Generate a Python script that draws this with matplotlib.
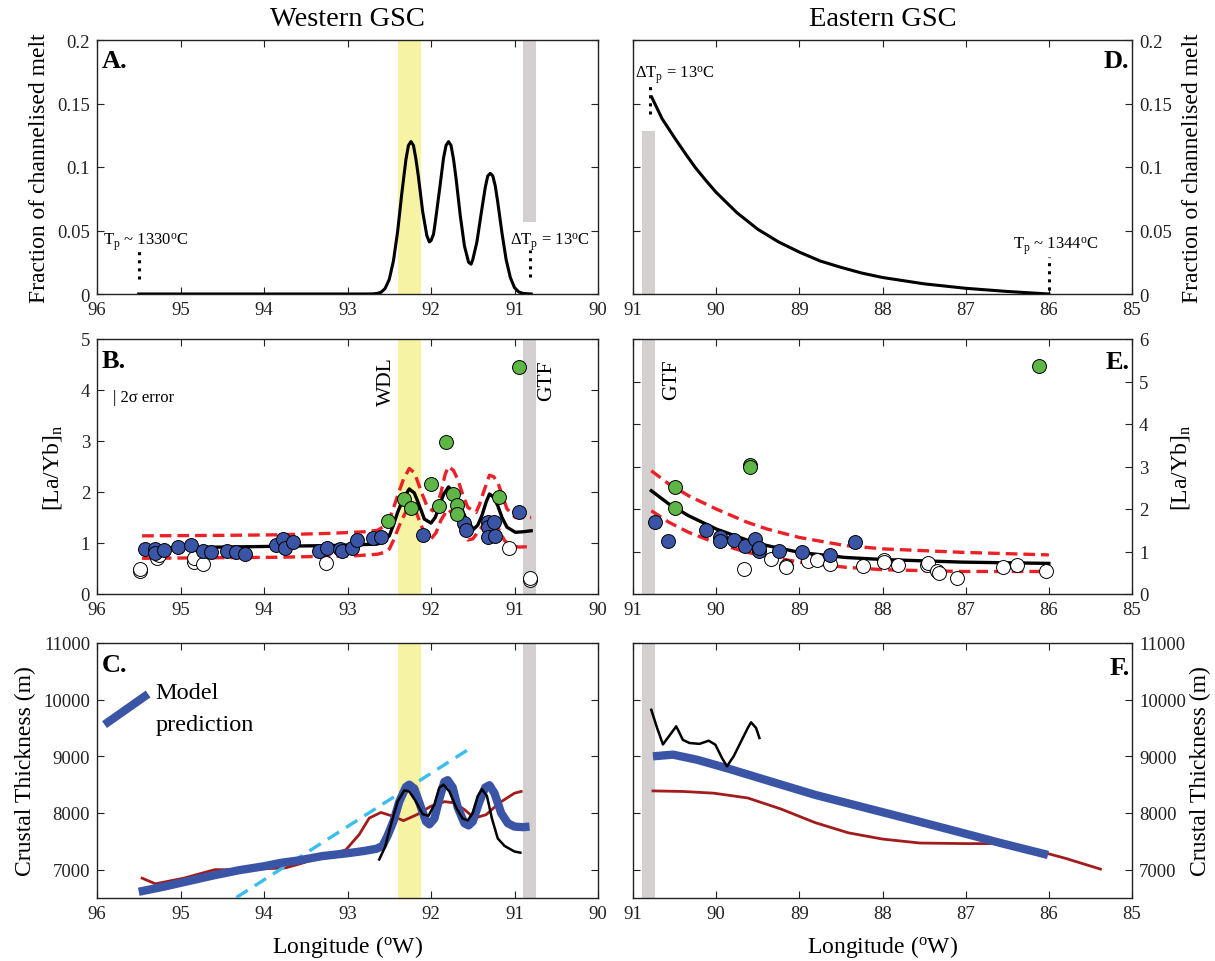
import matplotlib
matplotlib.use("Agg")
import matplotlib.pyplot as plt

plt.rcParams['font.family'] = 'Liberation Serif'
plt.rcParams['mathtext.fontset'] = 'custom'
plt.rcParams['mathtext.rm'] = 'Liberation Serif'
plt.rcParams['mathtext.it'] = 'Liberation Serif:italic'
plt.rcParams['mathtext.bf'] = 'Liberation Serif:bold'

# ---- data ----
wdl_band = (92.40, 92.12)
gtf_west = (90.90, 90.74)
gtf_east = (90.89, 90.73)

# A: fraction of channelised melt, western GSC
a_lon = [95.5, 93.0, 92.8, 92.7, 92.65, 92.6, 92.55, 92.5, 92.45, 92.4, 92.35, 92.3, 92.27,
         92.24, 92.21, 92.18, 92.15, 92.1, 92.05, 92.02, 92.0, 91.97, 91.95, 91.9, 91.85,
         91.82, 91.79, 91.76, 91.73, 91.7, 91.65, 91.6, 91.55, 91.52, 91.5, 91.45, 91.4,
         91.35, 91.32, 91.29, 91.26, 91.23, 91.2, 91.15, 91.1, 91.05, 91.0, 90.95, 90.9, 90.8]
a_frac = [0, 0, 0, 0.0001, 0.0004, 0.0013, 0.0043, 0.0115, 0.026, 0.049, 0.079, 0.106, 0.117,
          0.12, 0.117, 0.106, 0.092, 0.065, 0.046, 0.041, 0.042, 0.047, 0.056, 0.081, 0.107,
          0.117, 0.12, 0.117, 0.106, 0.091, 0.062, 0.038, 0.025, 0.0235, 0.027, 0.041, 0.063,
          0.084, 0.093, 0.095, 0.093, 0.085, 0.072, 0.048, 0.027, 0.013, 0.005, 0.0017,
          0.0005, 0]

# D: fraction of channelised melt, eastern GSC
d_lon = [90.775, 90.65, 90.5, 90.375, 90.25, 90.125, 90.0, 89.75, 89.5, 89.25, 89.0, 88.75,
         88.5, 88.25, 88.0, 87.5, 87.0, 86.5, 86.0]
d_frac = [0.155, 0.138, 0.123, 0.111, 0.0995, 0.0895, 0.080, 0.064, 0.051, 0.041, 0.033,
          0.026, 0.021, 0.0165, 0.013, 0.0080, 0.0045, 0.002, 0.0]

# B: [La/Yb]n, western GSC
b_fit_lon = [95.46, 94.5, 93.86, 93.2, 92.8, 92.64, 92.56, 92.5, 92.45, 92.4, 92.33, 92.26,
             92.2, 92.17, 92.12, 92.08, 92.0, 91.95, 91.91, 91.85, 91.79, 91.7, 91.64, 91.58,
             91.49, 91.44, 91.39, 91.34, 91.3, 91.25, 91.2, 91.15, 91.09, 90.99, 90.9, 90.8]
b_fit = [0.90, 0.92, 0.935, 0.95, 0.97, 0.98, 1.04, 1.14, 1.35, 1.60, 1.88, 2.06,
         1.98, 1.86, 1.65, 1.47, 1.39, 1.50, 1.67, 1.95, 2.10, 1.93, 1.70, 1.47,
         1.27, 1.35, 1.54, 1.80, 1.96, 1.90, 1.73, 1.50, 1.31, 1.21, 1.22, 1.24]
b_up_lon = [95.46, 94.5, 93.86, 93.2, 92.8, 92.64, 92.56, 92.5, 92.45, 92.4, 92.33, 92.26,
            92.2, 92.17, 92.11, 92.05, 91.98, 91.93, 91.88, 91.83, 91.79, 91.73, 91.68,
            91.62, 91.56, 91.46, 91.42, 91.37, 91.3, 91.25, 91.2, 91.14, 91.09, 90.99, 90.8]
b_up = [1.14, 1.15, 1.16, 1.19, 1.22, 1.25, 1.33, 1.47, 1.68, 1.93, 2.25, 2.46,
        2.38, 2.25, 1.98, 1.73, 1.63, 1.75, 1.99, 2.35, 2.50, 2.42, 2.25,
        1.95, 1.70, 1.60, 1.75, 2.00, 2.33, 2.30, 2.19, 1.90, 1.67, 1.50, 1.50]
b_lo_lon = [95.46, 93.86, 92.9, 92.64, 92.55, 92.5, 92.45, 92.38, 92.3, 92.24, 92.18, 92.12,
            92.05, 92.0, 91.94, 91.88, 91.8, 91.72, 91.65, 91.56, 91.5, 91.42, 91.33, 91.27,
            91.2, 91.12, 91.05, 90.95, 90.8]
b_lo = [0.70, 0.72, 0.75, 0.78, 0.82, 0.88, 1.05, 1.34, 1.62, 1.70, 1.62, 1.35,
        1.12, 1.08, 1.20, 1.45, 1.66, 1.55, 1.30, 1.06, 1.08, 1.25, 1.45, 1.45,
        1.30, 1.05, 0.95, 0.92, 0.93]

b_blue_lon = [95.43, 95.31, 95.31, 95.20, 95.03, 94.87, 94.73, 94.64, 94.44, 94.33, 94.23,
              93.86, 93.77, 93.75, 93.65, 93.34, 93.25, 93.09, 93.07, 92.95, 92.89, 92.69,
              92.60, 92.10, 91.60, 91.58, 91.32, 91.32, 91.32, 91.25, 91.23, 90.95]
b_blue = [0.89, 0.88, 0.80, 0.86, 0.93, 0.97, 0.84, 0.82, 0.85, 0.82, 0.78,
          0.96, 1.08, 0.90, 1.01, 0.84, 0.90, 0.88, 0.84, 0.90, 1.05, 1.10,
          1.11, 1.16, 1.39, 1.25, 1.41, 1.31, 1.11, 1.41, 1.14, 1.60]
b_green_lon = [92.52, 92.32, 92.24, 92.00, 91.91, 91.82, 91.74, 91.69, 91.69, 91.18, 90.95]
b_green = [1.44, 1.86, 1.69, 2.16, 1.73, 2.99, 1.96, 1.75, 1.56, 1.91, 4.46]
b_white_lon = [95.49, 95.49, 95.28, 95.26, 94.84, 94.84, 94.73, 93.26, 91.06, 90.82, 90.82]
b_white = [0.46, 0.50, 0.71, 0.76, 0.63, 0.70, 0.59, 0.60, 0.90, 0.27, 0.31]

# E: [La/Yb]n, eastern GSC
e_lon = [90.78, 90.57, 90.33, 90.0, 89.63, 89.39, 89.0, 88.45, 87.98, 87.04, 86.0]
e_fit = [2.43, 2.12, 1.84, 1.53, 1.27, 1.14, 0.98, 0.86, 0.81, 0.75, 0.72]
e_up = [2.90, 2.59, 2.31, 2.00, 1.69, 1.53, 1.33, 1.14, 1.06, 0.98, 0.92]
e_lo = [1.96, 1.69, 1.45, 1.20, 0.98, 0.89, 0.75, 0.63, 0.57, 0.53, 0.53]

e_blue_lon = [90.73, 90.58, 90.12, 89.95, 89.95, 89.78, 89.65, 89.53, 89.48, 89.49, 89.24,
              88.97, 88.63, 88.33]
e_blue = [1.70, 1.24, 1.51, 1.33, 1.24, 1.28, 1.12, 1.29, 1.02, 1.08, 1.02,
          0.98, 0.92, 1.22]
e_green_lon = [90.50, 90.50, 89.59, 89.59, 86.12]
e_green = [2.51, 2.02, 3.04, 2.99, 5.37]
e_white_lon = [89.66, 89.34, 89.16, 89.16, 88.90, 88.79, 88.63, 88.24, 87.98, 87.98, 87.81,
               87.47, 87.45, 87.35, 87.32, 87.10, 86.55, 86.38, 86.03]
e_white = [0.60, 0.82, 0.67, 0.64, 0.78, 0.81, 0.71, 0.67, 0.81, 0.75, 0.68,
           0.68, 0.72, 0.55, 0.49, 0.38, 0.63, 0.68, 0.53]

# C: crustal thickness, western GSC
c_model_lon = [95.5, 95.2, 94.9, 94.6, 94.3, 94.0, 93.8, 93.6, 93.3, 93.0, 92.8, 92.65,
               92.58, 92.52, 92.45, 92.38, 92.3, 92.26, 92.2, 92.12, 92.06, 92.02, 91.96,
               91.9, 91.84, 91.8, 91.74, 91.68, 91.6, 91.55, 91.5, 91.42, 91.35, 91.3,
               91.24, 91.16, 91.08, 91.0, 90.9, 90.82]
c_model = [6610, 6700, 6800, 6900, 6990, 7060, 7120, 7160, 7240, 7290, 7330, 7370,
           7420, 7600, 7850, 8200, 8460, 8500, 8430, 8100, 7850, 7800, 7900,
           8250, 8550, 8580, 8450, 8100, 7820, 7780, 7850, 8200, 8450, 8490,
           8350, 8000, 7820, 7760, 7750, 7760]
c_obs_lon = [92.62, 92.55, 92.48, 92.4, 92.32, 92.26, 92.18, 92.1, 92.03, 91.96, 91.9,
             91.85, 91.78, 91.7, 91.62, 91.56, 91.5, 91.44, 91.39, 91.33, 91.27, 91.2,
             91.12, 91.0, 90.93]
c_obs = [7180, 7400, 7800, 8200, 8400, 8380, 8200, 7980, 7950, 8150, 8450,
         8500, 8380, 8100, 7900, 7870, 8000, 8300, 8420, 8300, 7900, 7550,
         7420, 7320, 7300]
c_red_lon = [95.46, 95.3, 94.96, 94.59, 94.27, 93.75, 93.6, 93.02, 92.86, 92.74, 92.6,
             92.45, 92.33, 92.17, 92.0, 91.84, 91.72, 91.6, 91.48, 91.34, 91.18, 91.0, 90.92]
c_red = [6850, 6750, 6850, 7000, 7000, 7030, 7090, 7350, 7620, 7910, 8010,
         7940, 7865, 7970, 8120, 8200, 8180, 8060, 7910, 7970, 8180, 8350, 8380]
c_trend_lon = [94.33, 91.49]
c_trend = [6510, 9180]

# F: crustal thickness, eastern GSC
f_model_lon = [90.76, 90.52, 90.23, 89.87, 89.42, 88.81, 88.20, 87.59, 86.99, 86.58, 86.01]
f_model = [9000, 9030, 8940, 8790, 8590, 8320, 8090, 7860, 7630, 7470, 7260]
f_red_lon = [90.76, 90.4, 90.03, 89.62, 89.22, 88.81, 88.41, 88.0, 87.55, 87.0, 86.58,
             86.18, 85.8, 85.38]
f_red = [8390, 8380, 8350, 8265, 8070, 7830, 7650, 7540, 7470, 7460, 7460,
         7350, 7200, 7010]
f_obs_lon = [90.78, 90.71, 90.64, 90.48, 90.40, 90.32, 90.20, 90.09, 90.01, 89.93, 89.87,
             89.79, 89.71, 89.62, 89.58, 89.52, 89.48]
f_obs = [9820, 9500, 9210, 9530, 9290, 9235, 9220, 9276, 9206, 8970, 8824,
         9000, 9235, 9500, 9600, 9500, 9324]

# ---- colours ----
YELLOW = '#F6F3A2'
GREY = '#D4D0D0'
BLUE = '#3B55A6'
GREEN = '#5DB646'
RED = '#EC2027'
DARKRED = '#A21C1E'
CYAN = '#3BBDED'

fig = plt.figure(figsize=(12.15, 9.62), dpi=100)
W, H = 1215, 962


def box(l, r, t, b):
    return [l / W, 1 - b / H, (r - l) / W, (b - t) / H]


LX = (97, 598)
RX = (633, 1132)
axA = fig.add_axes(box(*LX, 41, 295))
axB = fig.add_axes(box(*LX, 340, 595))
axC = fig.add_axes(box(*LX, 644, 899))
axD = fig.add_axes(box(*RX, 41, 295))
axE = fig.add_axes(box(*RX, 340, 595))
axF = fig.add_axes(box(*RX, 644, 899))

TICK = 13.5
LAB = 17


def style(ax, right=False):
    ax.tick_params(direction='in', top=True, right=True, left=True, bottom=True,
                   labelsize=TICK, length=5, width=0.8, pad=5, colors='#222222')
    for s in ax.spines.values():
        s.set_linewidth(1.0)
        s.set_color('#222222')
    if right:
        ax.tick_params(labelleft=False, labelright=True)
        ax.yaxis.set_label_position('right')


for ax in (axA, axB, axC):
    style(ax)
    ax.set_xlim(96, 90)
    ax.set_xticks([96, 95, 94, 93, 92, 91, 90])
for ax in (axD, axE, axF):
    style(ax, right=True)
    ax.set_xlim(91, 85)
    ax.set_xticks([91, 90, 89, 88, 87, 86, 85])


def panel_letter(ax, s, right=False, y=0.965):
    if right:
        ax.text(0.995, y, s, transform=ax.transAxes, ha='right', va='top',
                fontsize=19, fontweight='bold')
    else:
        ax.text(0.01, y, s, transform=ax.transAxes, ha='left', va='top',
                fontsize=19, fontweight='bold')


# ---- A ----
axA.set_ylim(0, 0.2)
axA.set_yticks([0, 0.05, 0.1, 0.15, 0.2])
axA.set_yticklabels(['0', '0.05', '0.1', '0.15', '0.2'])
axA.axvspan(*wdl_band, color=YELLOW, lw=0, zorder=0)
axA.axvspan(*gtf_west, ymin=0.057 / 0.2, ymax=1, color=GREY, lw=0, zorder=0)
axA.plot(a_lon, a_frac, color='black', lw=2.2, zorder=3)
axA.plot([95.5, 95.5], [0.012, 0.036], color='black', ls=':', lw=2.2)
axA.plot([90.82, 90.82], [0.013, 0.035], color='black', ls=':', lw=2.2)
axA.text(95.93, 0.039, r'T$_\mathrm{p}$ ~ 1330$^\mathrm{o}$C', fontsize=12, va='baseline')
axA.text(91.05, 0.039, r'$\Delta$T$_\mathrm{p}$ = 13$^\mathrm{o}$C', fontsize=12, va='baseline')
axA.set_ylabel('Fraction of channelised melt', fontsize=LAB)
axA.yaxis.set_label_coords(-0.094, 0.5)
panel_letter(axA, 'A.')

# ---- D ----
axD.set_ylim(0, 0.2)
axD.set_yticks([0, 0.05, 0.1, 0.15, 0.2])
axD.set_yticklabels(['0', '0.05', '0.1', '0.15', '0.2'])
axD.axvspan(*gtf_east, ymin=0, ymax=0.128 / 0.2, color=GREY, lw=0, zorder=0)
axD.plot(d_lon, d_frac, color='black', lw=2.2, zorder=3)
axD.plot([90.79, 90.79], [0.142, 0.165], color='black', ls=':', lw=2.2)
axD.plot([86.0, 86.0], [0.003, 0.029], color='black', ls=':', lw=2.2)
axD.text(90.97, 0.1706, r'$\Delta$T$_\mathrm{p}$ = 13$^\mathrm{o}$C', fontsize=12, va='baseline')
axD.text(86.43, 0.036, r'T$_\mathrm{p}$ ~ 1344$^\mathrm{o}$C', fontsize=12, va='baseline')
axD.set_ylabel('Fraction of channelised melt', fontsize=LAB)
axD.yaxis.set_label_coords(1.1, 0.5)
panel_letter(axD, 'D.', right=True)

fig.text(sum(LX) / 2 / W, 1 - 20 / H, 'Western GSC', ha='center', va='center', fontsize=20.5)
fig.text(sum(RX) / 2 / W, 1 - 20 / H, 'Eastern GSC', ha='center', va='center', fontsize=20.5)

# ---- B ----
dash = (0, (3.5, 1.8))
axB.set_ylim(0, 5)
axB.set_yticks([0, 1, 2, 3, 4, 5])
axB.axvspan(*wdl_band, color=YELLOW, lw=0, zorder=0)
axB.axvspan(*gtf_west, color=GREY, lw=0, zorder=0)
axB.plot(b_up_lon, b_up, color=RED, lw=2.4, ls=dash, zorder=2)
axB.plot(b_lo_lon, b_lo, color=RED, lw=2.4, ls=dash, zorder=2)
axB.plot(b_fit_lon, b_fit, color='black', lw=2.4, zorder=3)
kw = dict(s=100, edgecolors='black', linewidths=0.7, zorder=4)
axB.scatter(b_white_lon, b_white, c='white', **kw)
axB.scatter(b_blue_lon, b_blue, c=BLUE, **kw)
axB.scatter(b_green_lon, b_green, c=GREEN, **kw)
axB.text(92.53, 4.18, 'WDL', rotation=90, ha='center', va='center', fontsize=15.5)
axB.text(90.61, 4.2, 'GTF', rotation=90, ha='center', va='center', fontsize=15.5)
axB.text(95.81, 3.86, '| 2σ error', ha='left', va='center', fontsize=12)
axB.set_ylabel(r'[La/Yb]$_\mathrm{n}$', fontsize=LAB)
axB.yaxis.set_label_coords(-0.066, 0.5)
panel_letter(axB, 'B.', y=0.96)

# ---- E ----
axE.set_ylim(0, 6)
axE.set_yticks([0, 1, 2, 3, 4, 5, 6])
axE.axvspan(*gtf_east, color=GREY, lw=0, zorder=0)
axE.plot(e_lon, e_up, color=RED, lw=2.4, ls=dash, zorder=2)
axE.plot(e_lon, e_lo, color=RED, lw=2.4, ls=dash, zorder=2)
axE.plot(e_lon, e_fit, color='black', lw=2.4, zorder=3)
axE.scatter(e_white_lon, e_white, c='white', **kw)
axE.scatter(e_blue_lon, e_blue, c=BLUE, **kw)
axE.scatter(e_green_lon, e_green, c=GREEN, **kw)
axE.text(90.54, 5.06, 'GTF', rotation=90, ha='center', va='center', fontsize=15.5)
axE.set_ylabel(r'[La/Yb]$_\mathrm{n}$', fontsize=LAB)
axE.yaxis.set_label_coords(1.074, 0.5)
panel_letter(axE, 'E.', right=True, y=0.955)

# ---- C ----
axC.set_ylim(6500, 11000)
axC.set_yticks([7000, 8000, 9000, 10000, 11000])
axC.axvspan(*wdl_band, color=YELLOW, lw=0, zorder=0)
axC.axvspan(*gtf_west, color=GREY, lw=0, zorder=0)
axC.plot(c_red_lon, c_red, color=DARKRED, lw=2, zorder=2)
axC.plot(c_trend_lon, c_trend, color=CYAN, lw=2.4, ls=(0, (4, 2.5)), zorder=3)
axC.plot(c_model_lon, c_model, color=BLUE, lw=6, solid_capstyle='butt', zorder=4)
axC.plot(c_obs_lon, c_obs, color='black', lw=1.8, zorder=5)
axC.plot([0.015, 0.102], [0.68, 0.80], color=BLUE, lw=6, transform=axC.transAxes,
         solid_capstyle='butt')
axC.text(0.117, 0.804, 'Model', transform=axC.transAxes, fontsize=17.5, va='center')
axC.text(0.117, 0.682, 'prediction', transform=axC.transAxes, fontsize=17.5, va='center')
axC.set_ylabel('Crustal Thickness (m)', fontsize=LAB)
axC.yaxis.set_label_coords(-0.122, 0.5)
axC.set_xlabel(r'Longitude ($^\mathrm{o}$W)', fontsize=17, labelpad=8)
panel_letter(axC, 'C.', y=0.96)

# ---- F ----
axF.set_ylim(6500, 11000)
axF.set_yticks([7000, 8000, 9000, 10000, 11000])
axF.axvspan(*gtf_east, color=GREY, lw=0, zorder=0)
axF.plot(f_red_lon, f_red, color=DARKRED, lw=2, zorder=2)
axF.plot(f_model_lon, f_model, color=BLUE, lw=6, solid_capstyle='butt', zorder=4)
axF.plot(f_obs_lon, f_obs, color='black', lw=1.8, zorder=5)
axF.set_ylabel('Crustal Thickness (m)', fontsize=LAB)
axF.yaxis.set_label_coords(1.116, 0.5)
axF.set_xlabel(r'Longitude ($^\mathrm{o}$W)', fontsize=17, labelpad=8)
panel_letter(axF, 'F.', right=True, y=0.95)

fig.savefig('out.png', dpi=100)
